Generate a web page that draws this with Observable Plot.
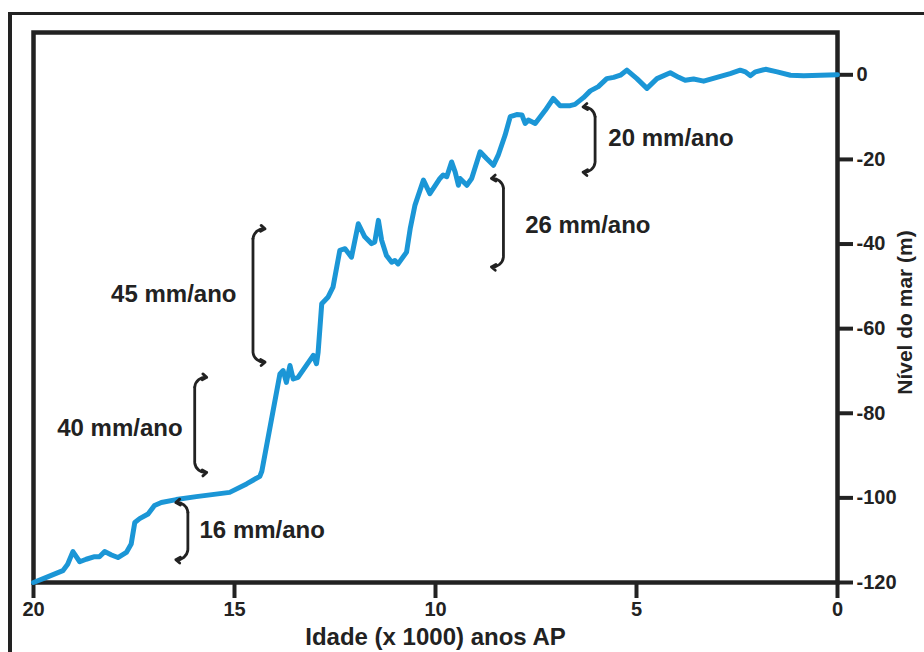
<!DOCTYPE html>
<html><head><meta charset="utf-8">
<script src="https://cdn.jsdelivr.net/npm/d3@7"></script>
<script src="https://cdn.jsdelivr.net/npm/@observablehq/plot@0.6"></script>
<style>
html,body{margin:0;padding:0;background:#fff;overflow:hidden;width:924px;height:652px;}
#wrap{position:relative;width:924px;height:652px;}
#outer{position:absolute;left:8px;top:12px;width:1000px;height:1000px;border-left:4.5px solid #222;border-top:3.5px solid #222;pointer-events:none;}
svg{display:block;}
</style></head><body><div id="wrap"><div id="chart"></div><div id="outer"></div></div>
<script>
// Sea-level curve: age (x 1000 years BP) and level (m)
const ages = [20, 19.68, 19.27, 19.15, 19.02, 18.85, 18.69, 18.48, 18.36, 18.23, 18.06, 17.90, 17.69, 17.57, 17.48, 17.36, 17.15, 16.99, 16.82, 16.45, 15.95, 15.12, 14.70, 14.37, 14.32, 13.87, 13.79, 13.71, 13.62, 13.54, 13.42, 13.04, 12.96, 12.92, 12.83, 12.67, 12.55, 12.38, 12.25, 12.09, 11.92, 11.76, 11.59, 11.51, 11.42, 11.34, 11.22, 11.09, 11.01, 10.93, 10.72, 10.63, 10.51, 10.30, 10.14, 9.89, 9.81, 9.72, 9.60, 9.51, 9.43, 9.39, 9.22, 9.10, 8.89, 8.73, 8.56, 8.44, 8.27, 8.14, 7.98, 7.85, 7.77, 7.69, 7.52, 7.27, 7.07, 6.90, 6.65, 6.53, 6.32, 6.15, 5.95, 5.74, 5.57, 5.40, 5.24, 4.99, 4.74, 4.49, 4.16, 3.95, 3.79, 3.58, 3.33, 3.00, 2.67, 2.42, 2.29, 2.17, 2.04, 1.79, 1.50, 1.17, 0.84, 0];
const levels = [-120, -118.8, -117.2, -115.7, -112.7, -115.1, -114.5, -113.9, -113.9, -112.7, -113.5, -114.1, -112.9, -110.9, -105.8, -104.9, -103.8, -101.8, -101.1, -100.4, -99.7, -98.7, -96.7, -94.9, -93.7, -70.7, -69.9, -72.7, -68.7, -71.9, -71.5, -66.3, -68.3, -65.6, -54.1, -52.5, -50.2, -41.5, -41.1, -43.1, -35.2, -38.3, -39.9, -39.5, -34.4, -39.1, -42.7, -44.3, -43.9, -44.7, -41.9, -36.4, -30.8, -24.9, -28.1, -24.5, -23.7, -24.1, -20.6, -23.0, -26.1, -24.5, -26.1, -24.5, -18.2, -19.8, -21.4, -19.0, -14.3, -9.9, -9.4, -9.5, -11.5, -10.7, -11.5, -8.4, -5.6, -7.3, -7.3, -7.0, -5.4, -3.8, -2.8, -0.9, -0.6, -0.1, 1.1, -0.9, -3.2, -0.9, 0.5, -0.6, -1.3, -1.0, -1.5, -0.6, 0.3, 1.1, 0.7, -0.2, 0.7, 1.3, 0.7, -0.1, -0.2, 0];

// Tick values
const xTicks = [20, 15, 10, 5, 0];
const yTicks = [0, -20, -40, -60, -80, -100, -120];

// Rate annotations (brackets)
const rateLabels = ["16 mm/ano", "40 mm/ano", "45 mm/ano", "26 mm/ano", "20 mm/ano"];
const rateAge = [16.16, 15.99, 14.54, 8.31, 6.03];      // age of bracket spine
const rateTop = [-101.1, -71.5, -36.4, -24.5, -7.6];    // level of upper arrow tip
const rateBottom = [-114.6, -94.0, -67.9, -45.4, -23.0];// level of lower arrow tip
const rateSide = ["left", "right", "right", "left", "left"]; // direction the arrow tips point
const rateLabelAge = [15.87, 16.29, 14.95, 7.77, 5.70];
const rateLabelLevel = [-107.7, -83.6, -51.8, -35.6, -15.1];

const data = ages.map((a, i) => ({age: a, level: levels[i]}));
const idx = rateLabels.map((_, i) => i);
const DX = 0.3, DY = 2.3;
const ink = "#222";
const tipAge = i => rateSide[i] === "left" ? rateAge[i] + DX : rateAge[i] - DX;

const arrowOpts = {stroke: ink, strokeWidth: 2.8, headLength: 8, headAngle: 70};

const chart = Plot.plot({
  width: 924,
  height: 652,
  marginLeft: 33,
  marginRight: 87,
  marginTop: 32,
  marginBottom: 70,
  style: {fontFamily: "'Liberation Sans', Arial, sans-serif", fontWeight: "bold", color: ink, background: "#fff"},
  x: {domain: [20, 0], ticks: xTicks, label: null},
  y: {domain: [-120, 10], ticks: yTicks, label: null},
  marks: [
    Plot.frame({stroke: ink, strokeWidth: 4.5}),
    Plot.axisX({ticks: xTicks, tickSize: 16, tickPadding: 3, fontSize: 20, strokeWidth: 4, label: null, tickFormat: d => String(d)}),
    Plot.axisY({anchor: "right", ticks: yTicks, tickSize: 15, tickPadding: 4, fontSize: 20, strokeWidth: 4, label: null, tickFormat: d => String(d)}),
    Plot.line(data, {x: "age", y: "level", stroke: "#1b96d6", strokeWidth: 5, strokeLinejoin: "round", strokeLinecap: "round"}),
    // bracket spines
    Plot.ruleX(idx, {x: i => rateAge[i], y1: i => rateTop[i] - DY, y2: i => rateBottom[i] + DY, stroke: ink, strokeWidth: 2.8}),
    // bracket ends
    Plot.arrow(idx.filter(i => rateSide[i] === "left"), {x1: i => rateAge[i], y1: i => rateTop[i] - DY, x2: tipAge, y2: i => rateTop[i], bend: -45, ...arrowOpts}),
    Plot.arrow(idx.filter(i => rateSide[i] === "left"), {x1: i => rateAge[i], y1: i => rateBottom[i] + DY, x2: tipAge, y2: i => rateBottom[i], bend: 45, ...arrowOpts}),
    Plot.arrow(idx.filter(i => rateSide[i] === "right"), {x1: i => rateAge[i], y1: i => rateTop[i] - DY, x2: tipAge, y2: i => rateTop[i], bend: 45, ...arrowOpts}),
    Plot.arrow(idx.filter(i => rateSide[i] === "right"), {x1: i => rateAge[i], y1: i => rateBottom[i] + DY, x2: tipAge, y2: i => rateBottom[i], bend: -45, ...arrowOpts}),
    // rate labels
    Plot.text(idx.filter(i => rateSide[i] === "left"), {x: i => rateLabelAge[i], y: i => rateLabelLevel[i], text: i => rateLabels[i], textAnchor: "start", fontSize: 24, fontWeight: "bold", fill: ink}),
    Plot.text(idx.filter(i => rateSide[i] === "right"), {x: i => rateLabelAge[i], y: i => rateLabelLevel[i], text: i => rateLabels[i], textAnchor: "end", fontSize: 24, fontWeight: "bold", fill: ink}),
    // axis titles
    Plot.text(["Idade (x 1000) anos AP"], {frameAnchor: "bottom", dy: 55, textAnchor: "middle", lineAnchor: "middle", text: d => d, fontSize: 24, fontWeight: "bold", fill: ink}),
    Plot.text(["Nível do mar (m)"], {frameAnchor: "right", dx: 68, dy: 5, rotate: -90, textAnchor: "middle", lineAnchor: "middle", text: d => d, fontSize: 21, fontWeight: "bold", fill: ink})
  ]
});
document.getElementById("chart").appendChild(chart);
</script>
</body></html>
